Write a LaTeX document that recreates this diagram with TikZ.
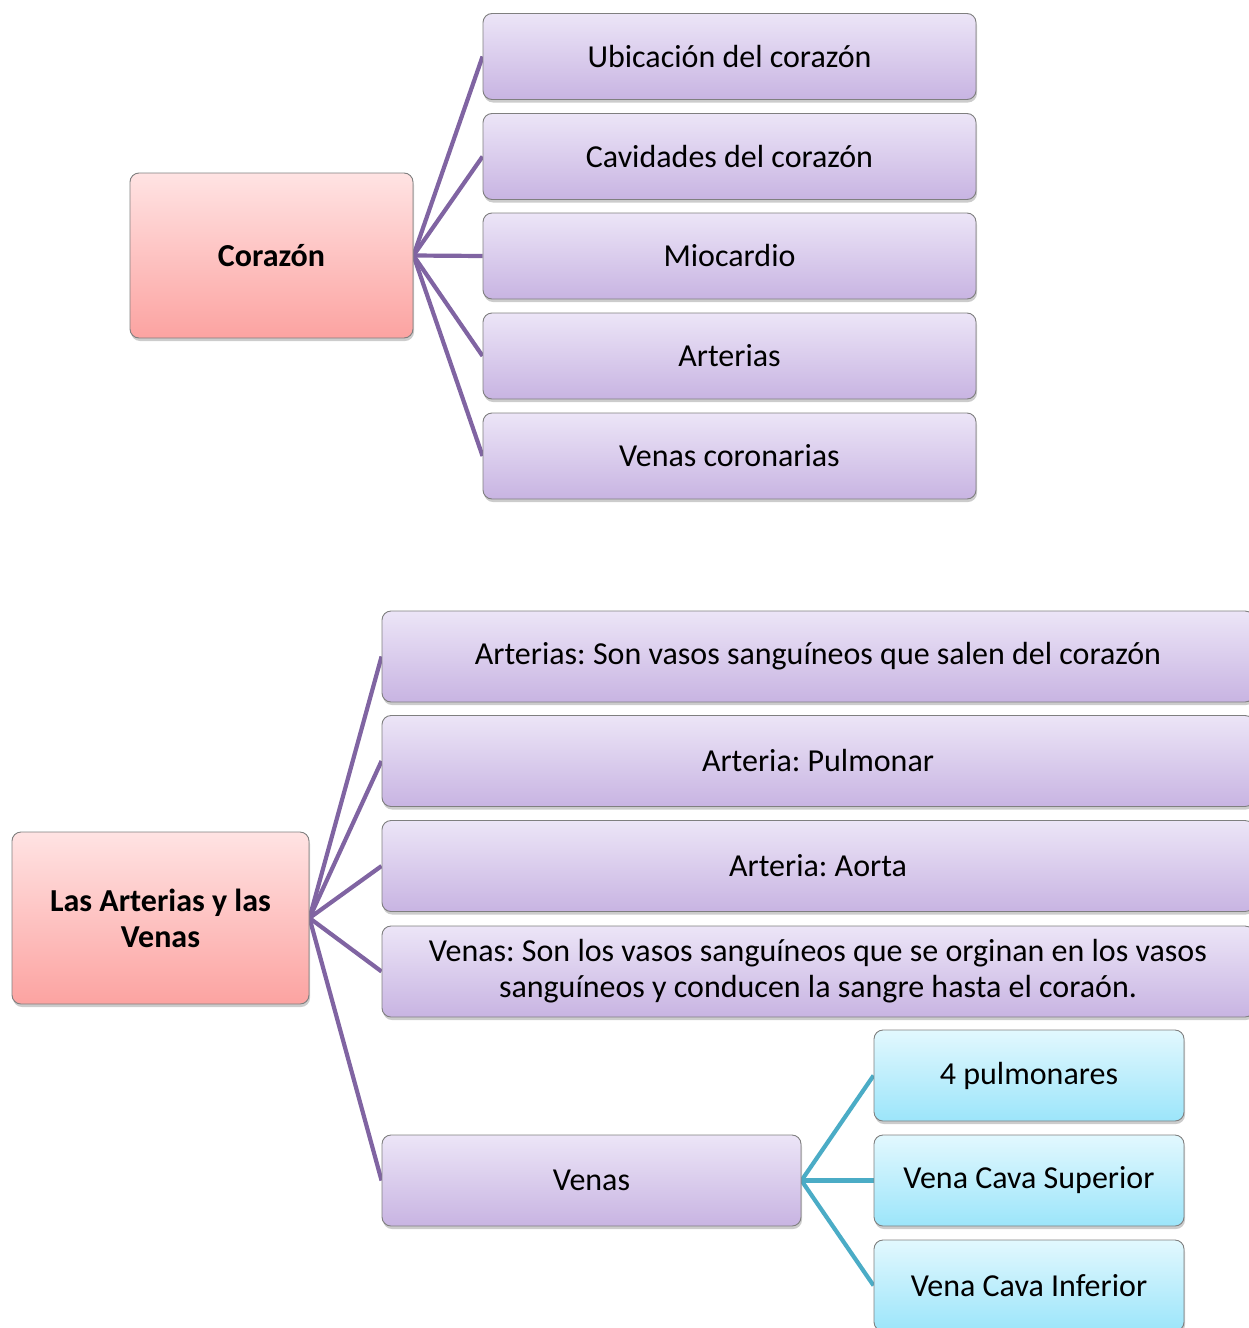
\documentclass[tikz,border=0pt]{standalone}
\usepackage{fontspec}
\setmainfont{Carlito}
\usetikzlibrary{shadows,backgrounds}
\definecolor{purpline}{HTML}{8064A2}
\definecolor{blueline}{HTML}{4BACC6}
\definecolor{boxedge}{HTML}{7F7F7F}
\tikzset{
  base/.style={draw=boxedge, line width=0.9pt, rounded corners=9pt, inner sep=0pt,
    align=center, font=\fontsize{32}{36}\selectfont,
    drop shadow={opacity=0.4, shadow xshift=1pt, shadow yshift=-3pt}},
  rootbox/.style={base, top color=pinktop, bottom color=pinkbot, font=\fontsize{32}{36}\selectfont\bfseries},
  leafbox/.style={base, top color=purtop, bottom color=purbot},
  subbox/.style={base, top color=bluetop, bottom color=bluebot},
  plink/.style={draw=purpline, line width=4.2pt},
  blink/.style={draw=blueline, line width=4.2pt}
}
\definecolor{pinktop}{HTML}{FFE3E3}
\definecolor{pinkbot}{HTML}{FCA3A1}
\definecolor{purtop}{HTML}{ECE5F7}
\definecolor{purbot}{HTML}{C8B4E2}
\definecolor{bluetop}{HTML}{E2F8FE}
\definecolor{bluebot}{HTML}{9CE5FA}
\begin{document}
\frenchspacing
\begin{tikzpicture}[x=1pt,y=-1pt]
\useasboundingbox (0,0) rectangle (1249,1328);
\clip (0,0) rectangle (1249,1328);
% top group
\node[rootbox, minimum width=283pt, minimum height=165pt] (cor) at (271.5,255.5) {Corazón};
\node[leafbox, minimum width=493pt, minimum height=86pt] (u1) at (729.5,56.5) {Ubicación del corazón};
\node[leafbox, minimum width=493pt, minimum height=86pt] (u2) at (729.5,156.5) {Cavidades del corazón};
\node[leafbox, minimum width=493pt, minimum height=86pt] (u3) at (729.5,256) {Miocardio};
\node[leafbox, minimum width=493pt, minimum height=86pt] (u4) at (729.5,356) {Arterias};
\node[leafbox, minimum width=493pt, minimum height=86pt] (u5) at (729.5,456) {Venas coronarias};
% bottom group
\node[rootbox, minimum width=297pt, minimum height=172pt] (av) at (160.5,918) {Las Arterias y las\\Venas};
\node[leafbox, minimum width=872pt, minimum height=91pt] (a1) at (818,656.5) {Arterias: Son vasos sanguíneos que salen del corazón};
\node[leafbox, minimum width=872pt, minimum height=91pt] (a2) at (818,761) {Arteria: Pulmonar};
\node[leafbox, minimum width=872pt, minimum height=91pt] (a3) at (818,866) {Arteria: Aorta};
\node[leafbox, minimum width=872pt, minimum height=91pt] (a4) at (818,971.5) {Venas: Son los vasos sanguíneos que se orginan en los vasos\\sanguíneos y conducen la sangre hasta el coraón.};
\node[leafbox, minimum width=419pt, minimum height=91pt] (a5) at (591.5,1180.5) {Venas};
\node[subbox, minimum width=310pt, minimum height=91pt] (b1) at (1029,1075.5) {4 pulmonares};
\node[subbox, minimum width=310pt, minimum height=91pt] (b2) at (1029,1180.5) {Vena Cava Superior};
\node[subbox, minimum width=310pt, minimum height=91pt] (b3) at (1029,1285.5) {Vena Cava Inferior};
\begin{scope}[on background layer]
\foreach \t in {u1,u2,u3,u4,u5} \draw[plink] (cor.east) -- (\t.west);
\foreach \t in {a1,a2,a3,a4,a5} \draw[plink] (av.east) -- (\t.west);
\foreach \t in {b1,b2,b3} \draw[blink] (a5.east) -- (\t.west);
\end{scope}
\end{tikzpicture}
\end{document}
